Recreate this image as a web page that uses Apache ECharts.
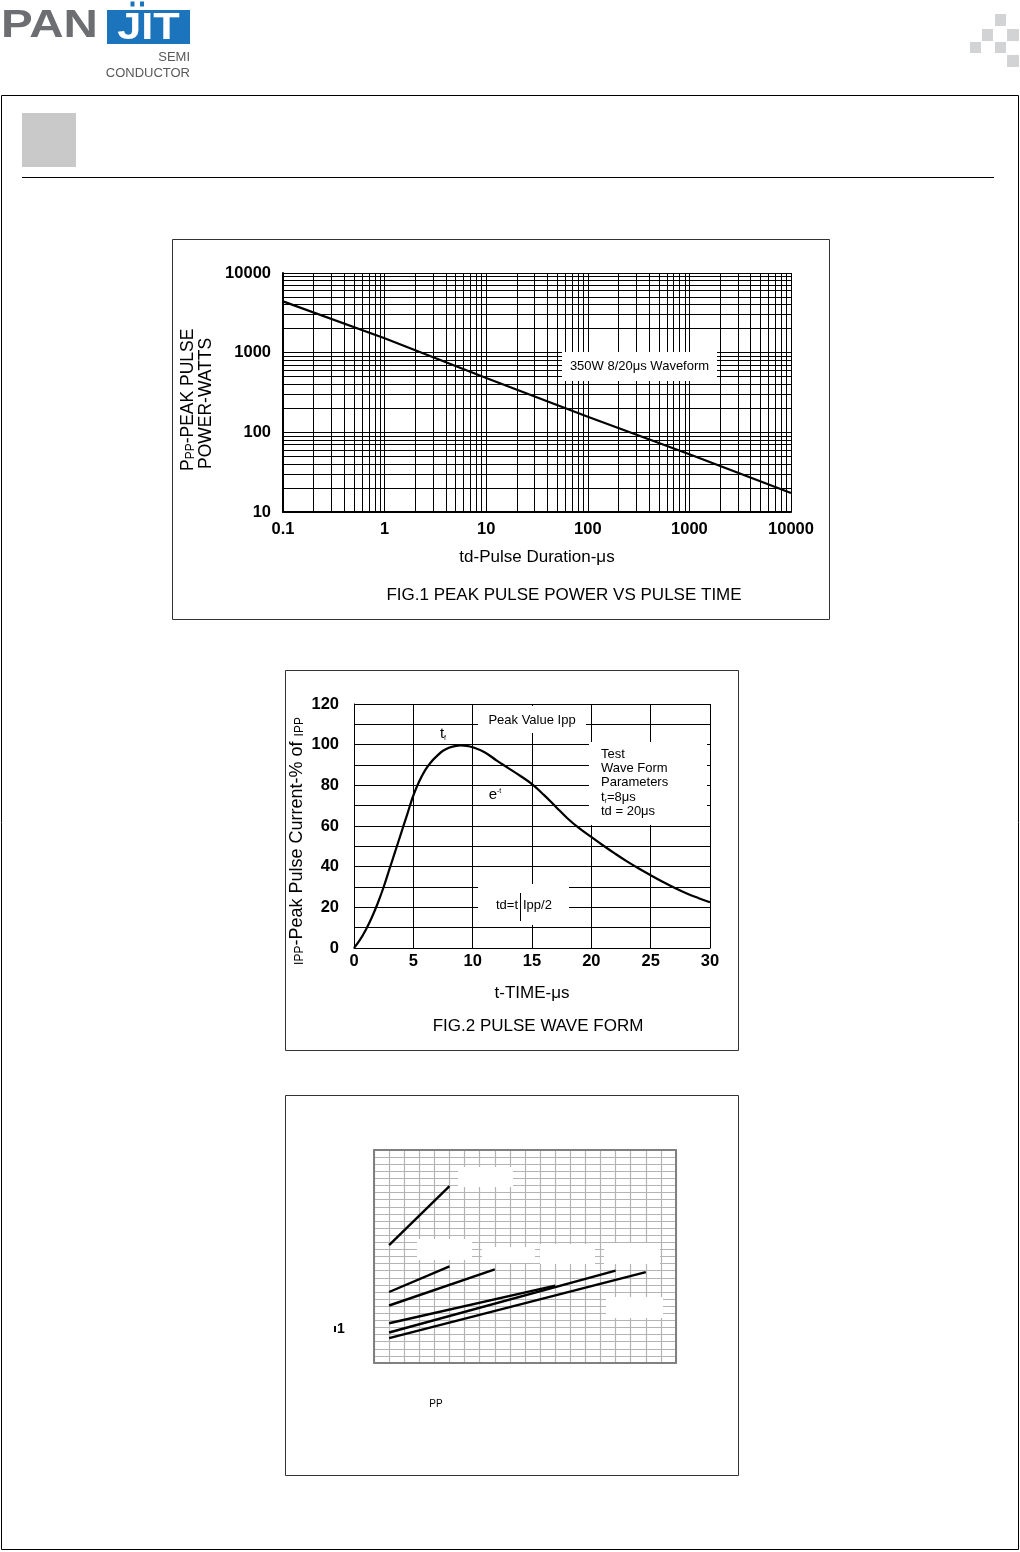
<!DOCTYPE html>
<html><head><meta charset="utf-8">
<script src="https://cdn.jsdelivr.net/npm/echarts@6/dist/echarts.min.js"></script>
<style>html,body{margin:0;padding:0;background:#fff}#c{width:1020px;height:1552px}</style>
</head><body><div id="c"></div>
<script>
const FF = '"Liberation Sans", Arial, Helvetica, sans-serif';

// ---------- FIG.1 data ----------
const fig1Duration = [0.1, 1, 10, 100, 1000, 10000];
const fig1Power = [4400, 1520, 480, 157, 53, 17.3];
const fig1XTicks = ['0.1', '1', '10', '100', '1000', '10000'];
const fig1YTicks = ['10', '100', '1000', '10000'];
const fig1XDecades = [0.1, 1, 10, 100, 1000];
const fig1YDecades = [10, 100, 1000];
const minorMultipliers = [2, 3, 4, 5, 6, 7, 8, 9];

// ---------- FIG.2 data ----------
const fig2Time = [0, 0.5, 1, 1.5, 2, 2.5, 3, 3.5, 4, 4.5, 5, 5.5, 6, 6.5, 7, 7.5, 8, 8.5, 9, 9.5, 10,
  11, 12, 13, 14, 15, 16, 17, 18, 19, 20, 21, 22, 23, 24, 25, 26, 27, 28, 29, 30];
const fig2Current = [0, 4, 9, 15, 22, 30, 39, 48, 57, 66, 75, 82, 87.5, 91.5, 94.5, 97, 98.5, 99.3, 99.6, 99.4, 98.7,
  96.3, 92.3, 88.5, 84.7, 80.6, 75.3, 69.5, 63.7, 58.8, 54.6, 50.4, 46.4, 42.6, 39.1, 35.8, 32.6, 29.6, 26.9, 24.6, 22.5];
const fig2XTicks = ['0', '5', '10', '15', '20', '25', '30'];
const fig2YTicks = ['0', '20', '40', '60', '80', '100', '120'];

// ---------- FIG.3 data ----------
const fig3LineX = [[1, 5], [1, 5], [1, 8], [1, 12], [1, 16], [1, 18]];
const fig3LineY = [[16.6, 24.9], [10.0, 13.6], [8.1, 13.2], [5.6, 10.9], [4.3, 13.0], [3.5, 12.8]];

// ---------- build ----------
const fig1MinorX = [];
fig1XDecades.forEach(d => minorMultipliers.forEach(m => fig1MinorX.push(+(d * m).toPrecision(6))));
const fig1MinorY = [];
fig1YDecades.forEach(d => minorMultipliers.forEach(m => fig1MinorY.push(d * m)));

const chart = echarts.init(document.getElementById('c'), null, {renderer: 'canvas'});

const black = '#000';
const txt = (x, y, text, font, extra) => ({
  type: 'text', x: x, y: y, z: 100, silent: true,
  style: Object.assign({text: text, font: font, fill: '#000', textAlign: 'center', textVerticalAlign: 'middle'}, extra || {})
});
const rect = (x, y, w, h, fill, stroke, lw, z) => ({
  type: 'rect', z: z == null ? 90 : z, silent: true,
  shape: {x: x, y: y, width: w, height: h},
  style: {fill: fill, stroke: stroke || null, lineWidth: lw || 0}
});

const graphics = [
  // page chrome
  rect(1.5, 95.5, 1017, 1454, 'none', '#000', 1, 0),
  rect(22, 113, 54, 54, '#c9c9c9', null, 0, 0),
  {type: 'line', z: 0, silent: true, shape: {x1: 22, y1: 177.5, x2: 994, y2: 177.5}, style: {stroke: '#000', lineWidth: 1}},
  // figure frames
  rect(172.5, 239.5, 657, 380, 'none', '#333', 1, 0),
  rect(285.5, 670.5, 453, 380, 'none', '#333', 1, 0),
  rect(285.5, 1095.5, 453, 380, 'none', '#333', 1, 0),
  // logo
  {type: 'text', x: 1, y: 26, z: 5, silent: true, scaleX: 1.22,
    style: {text: 'PAN', font: 'bold 39px ' + FF, fill: '#6d6e71', textAlign: 'left', textVerticalAlign: 'middle'}},
  rect(107, 10, 83, 34, '#1c75bc', null, 0, 5),
  rect(130.5, 1.5, 4, 5, '#1c75bc', null, 0, 5),
  rect(140, 1.5, 4, 5, '#1c75bc', null, 0, 5),
  {type: 'text', x: 148.5, y: 29, z: 6, silent: true, scaleX: 1.2,
    style: {text: 'JIT', font: 'bold 36px ' + FF, fill: '#fff', textAlign: 'center', textVerticalAlign: 'middle'}},
  txt(190, 57, 'SEMI', '13px ' + FF, {fill: '#58595b', textAlign: 'right'}),
  txt(190, 73, 'CONDUCTOR', '13px ' + FF, {fill: '#58595b', textAlign: 'right'}),
  // top-right squares
  rect(995, 14, 11, 12, '#d1d3d4', null, 0, 0),
  rect(982, 29, 11, 12, '#d1d3d4', null, 0, 0),
  rect(1007, 29, 12, 12, '#d1d3d4', null, 0, 0),
  rect(970, 42, 11, 11, '#d1d3d4', null, 0, 0),
  rect(995, 42, 11, 11, '#d1d3d4', null, 0, 0),
  rect(1007, 55, 12, 12, '#d1d3d4', null, 0, 0),

  // FIG.1 annotations
  rect(562, 352, 155, 29, '#fff'),
  txt(639.5, 366.5, '350W 8/20μs Waveform', '13px ' + FF),
  {type: 'text', x: 188, y: 471, z: 100, silent: true, rotation: Math.PI / 2,
    style: {text: 'P{s|PP}-PEAK PULSE', font: '17.5px ' + FF, fill: '#000', textAlign: 'left', textVerticalAlign: 'middle',
      rich: {s: {fontSize: 12, fontFamily: FF, verticalAlign: 'bottom', padding: [4, 0, 0, 0]}}}},
  {type: 'text', x: 206, y: 469, z: 100, silent: true, rotation: Math.PI / 2,
    style: {text: 'POWER-WATTS', font: '17.5px ' + FF, fill: '#000', textAlign: 'left', textVerticalAlign: 'middle'}},

  // FIG.2 annotations
  rect(478, 706, 108, 27, '#fff'),
  txt(532, 720.5, 'Peak Value Ipp', '13px ' + FF),
  rect(589, 742, 118, 83, '#fff'),
  {type: 'text', x: 601, y: 747, z: 100, silent: true,
    style: {text: 'Test\nWave Form\nParameters\nt{sub|r}=8μs\ntd = 20μs', font: '13px ' + FF, fill: '#000',
      textAlign: 'left', textVerticalAlign: 'top', lineHeight: 14.3,
      rich: {sub: {fontSize: 7, fontFamily: FF, verticalAlign: 'bottom', lineHeight: 14.3}}}},
  rect(478, 884, 91, 41, '#fff'),
  txt(518, 905, 'td=t', '13px ' + FF, {textAlign: 'right'}),
  txt(523, 905, 'Ipp/2', '13px ' + FF, {textAlign: 'left'}),
  {type: 'line', z: 100, silent: true, shape: {x1: 520.5, y1: 893, x2: 520.5, y2: 921}, style: {stroke: '#000', lineWidth: 1}},
  {type: 'text', x: 443, y: 734, z: 100, silent: true,
    style: {text: 't{sub|f}', font: '15px ' + FF, fill: '#000', textAlign: 'center', textVerticalAlign: 'middle',
      rich: {sub: {fontSize: 7, fontFamily: FF, verticalAlign: 'bottom'}}}},
  {type: 'text', x: 495, y: 795, z: 100, silent: true,
    style: {text: 'e{sup|-t}', font: '15px ' + FF, fill: '#000', textAlign: 'center', textVerticalAlign: 'middle',
      backgroundColor: '#fff', padding: [1, 2, 1, 2],
      rich: {sup: {fontSize: 7, fontFamily: FF, verticalAlign: 'top'}}}},
  {type: 'text', x: 297, y: 841, z: 100, silent: true, rotation: Math.PI / 2,
    style: {text: '{s|IPP}-Peak Pulse Current-% of {s|IPP}', font: '18px ' + FF, fill: '#000', textAlign: 'center', textVerticalAlign: 'middle',
      rich: {s: {fontSize: 12, fontFamily: FF, verticalAlign: 'bottom', padding: [4, 0, 0, 0]}}}},

  // FIG.3 label boxes and leftovers
  rect(458, 1167, 55, 20, '#fff'),
  rect(417, 1239, 55, 21, '#fff'),
  rect(482, 1247, 53, 16, '#fff'),
  rect(540, 1244, 55, 20, '#fff'),
  rect(604, 1243, 56, 21, '#fff'),
  rect(606, 1297, 57, 21, '#fff'),
  txt(341, 1329, '1', 'bold 14px ' + FF),
  rect(334, 1326, 2, 6, '#000', null, 0, 100),
  txt(436, 1404, 'PP', '10px ' + FF)
];

const titleStyle = {fontSize: 17, fontWeight: 'normal', color: '#000', fontFamily: FF};
const nameStyle = {fontSize: 17, color: black, fontFamily: FF};
const tickStyle = {color: black, fontSize: 16.5, fontWeight: 'bold', fontFamily: FF};

const option = {
  animation: false,
  backgroundColor: '#fff',
  title: [
    {text: 'FIG.1 PEAK PULSE POWER VS PULSE TIME', left: 564, top: 587, textAlign: 'center', padding: 0, textStyle: titleStyle},
    {text: 'FIG.2 PULSE WAVE FORM', left: 538, top: 1018, textAlign: 'center', padding: 0, textStyle: titleStyle}
  ],
  grid: [
    {left: 283, top: 273, width: 508, height: 239, outerBoundsMode: 'none', containLabel: false},
    {left: 354, top: 704, width: 356, height: 244, outerBoundsMode: 'none', containLabel: false},
    {left: 374, top: 1150, width: 302, height: 213, outerBoundsMode: 'none', containLabel: false}
  ],
  xAxis: [
    {gridIndex: 0, type: 'log', logBase: 10, min: 0.1, max: 10000,
      axisLine: {show: true, onZero: false, lineStyle: {color: black, width: 2}},
      axisTick: {show: false},
      axisLabel: Object.assign({margin: 9, formatter: (v, i) => fig1XTicks[i] || ''}, tickStyle),
      splitLine: {show: true, lineStyle: {color: black, width: 1}},
      name: 'td-Pulse Duration-μs', nameLocation: 'middle', nameGap: 37, nameTextStyle: nameStyle},
    {gridIndex: 1, type: 'value', min: 0, max: 30, interval: 5,
      axisLine: {show: true, onZero: false, lineStyle: {color: black, width: 1}},
      axisTick: {show: false},
      axisLabel: Object.assign({margin: 5, formatter: (v) => fig2XTicks[Math.round(v / 5)]}, tickStyle),
      splitLine: {show: true, lineStyle: {color: black, width: 1}},
      name: 't-TIME-μs', nameLocation: 'middle', nameGap: 37, nameTextStyle: nameStyle},
    {gridIndex: 2, type: 'value', min: 0, max: 20, interval: 1,
      axisLine: {show: true, onZero: false, lineStyle: {color: '#808080', width: 2}},
      axisTick: {show: false}, axisLabel: {show: false},
      splitLine: {show: true, lineStyle: {color: '#b4b4b4', width: 1.2}}},
    {gridIndex: 2, type: 'value', min: 0, max: 20, position: 'top',
      axisLine: {show: true, onZero: false, lineStyle: {color: '#808080', width: 2}},
      axisTick: {show: false}, axisLabel: {show: false}, splitLine: {show: false}}
  ],
  yAxis: [
    {gridIndex: 0, type: 'log', logBase: 10, min: 10, max: 10000,
      axisLine: {show: true, onZero: false, lineStyle: {color: black, width: 2}},
      axisTick: {show: false},
      axisLabel: Object.assign({margin: 12, formatter: (v, i) => fig1YTicks[i] || ''}, tickStyle),
      splitLine: {show: true, lineStyle: {color: black, width: 1}}},
    {gridIndex: 1, type: 'value', min: 0, max: 120, interval: 10,
      axisLine: {show: true, onZero: false, lineStyle: {color: black, width: 1}},
      axisTick: {show: false},
      axisLabel: Object.assign({margin: 15,
        formatter: (v) => (Math.round(v) % 20 === 0 ? fig2YTicks[Math.round(v / 20)] : '')}, tickStyle),
      splitLine: {show: true, lineStyle: {color: black, width: 1}}},
    {gridIndex: 2, type: 'value', min: 0, max: 30, interval: 1,
      axisLine: {show: true, onZero: false, lineStyle: {color: '#808080', width: 2}},
      axisTick: {show: false}, axisLabel: {show: false},
      splitLine: {show: true, lineStyle: {color: '#b4b4b4', width: 1.2}}},
    {gridIndex: 2, type: 'value', min: 0, max: 30, position: 'right',
      axisLine: {show: true, onZero: false, lineStyle: {color: '#808080', width: 2}},
      axisTick: {show: false}, axisLabel: {show: false}, splitLine: {show: false}}
  ],
  series: [
    {type: 'line', xAxisIndex: 0, yAxisIndex: 0, symbol: 'none', silent: true,
      data: fig1Duration.map((d, i) => [d, fig1Power[i]]),
      lineStyle: {color: black, width: 2.2},
      markLine: {silent: true, symbol: ['none', 'none'], label: {show: false}, animation: false,
        lineStyle: {color: black, width: 1, type: 'solid'},
        emphasis: {disabled: true},
        data: fig1MinorX.map(v => ({xAxis: v})).concat(fig1MinorY.map(v => ({yAxis: v})))}},
    {type: 'line', xAxisIndex: 1, yAxisIndex: 1, symbol: 'none', silent: true, smooth: 0.4,
      data: fig2Time.map((t, i) => [t, fig2Current[i]]),
      lineStyle: {color: black, width: 2.2}}
  ].concat(fig3LineX.map((xs, k) => ({
    type: 'line', xAxisIndex: 2, yAxisIndex: 2, symbol: 'none', silent: true,
    data: xs.map((x, j) => [x, fig3LineY[k][j]]),
    lineStyle: {color: black, width: 2.4}
  }))),
  graphic: graphics
};
chart.setOption(option);
</script>
</body></html>
